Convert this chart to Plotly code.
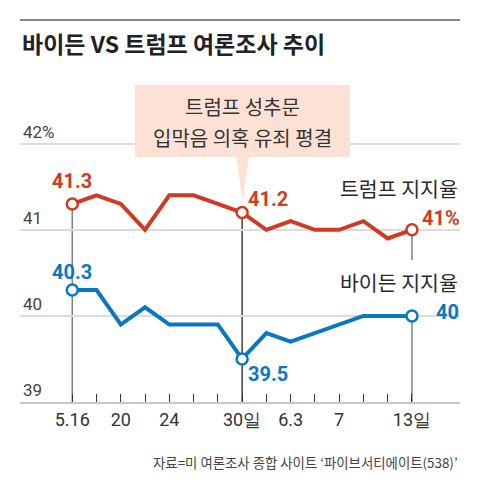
import plotly.graph_objects as go

# ---- data ----
dates = ["5.16", "5.18", "5.20", "5.22", "5.24", "5.26", "5.28", "5.30",
         "6.1", "6.3", "6.5", "6.7", "6.9", "6.11", "6.13"]
tick_text = ["5.16", "", "20", "", "24", "", "", "30일", "", "6.3", "", "7", "", "", "13일"]
trump = [41.3, 41.4, 41.3, 41.0, 41.4, 41.4, 41.3, 41.2, 41.0, 41.1, 41.0, 41.0, 41.1, 40.9, 41.0]
biden = [40.3, 40.3, 39.9, 40.1, 39.9, 39.9, 39.9, 39.5, 39.8, 39.7, 39.8, 39.9, 40.0, 40.0, 40.0]
y_ticks = [39, 40, 41, 42]
y_tick_text = ["39", "40", "41", "42%"]
highlight = [0, 7, 14]
trump_labels = ["41.3", "41.2", "41%"]
biden_labels = ["40.3", "39.5", "40"]
title = "바이든 VS 트럼프 여론조사 추이"
note = ["트럼프 성추문", "입막음 의혹 유죄 평결"]
trump_name = "트럼프 지지율"
biden_name = "바이든 지지율"
source = "자료=미 여론조사 종합 사이트 ‘파이브서티에이트(538)’"

# ---- style ----
# page body has an 8px margin, so the figure is sized to fill the rest of the window
W, H = 464, 474
L, R, T, B = 12, 12, 52, 80
RED = "#cf3a22"
BLUE = "#0a78c0"
PINK = "#fde1d4"
KR = "Noto Sans CJK KR, sans-serif"
NUM = "Roboto, sans-serif"

x = list(range(len(dates)))
hx = [x[i] for i in highlight]


def px(v):  # window pixel -> paper x
    return (v - 20) / 440


def py(v):  # window pixel -> paper y
    return (402 - v) / 342


fig = go.Figure()
fig.add_trace(go.Scatter(x=x, y=trump, mode="lines",
                         line=dict(color=RED, width=4), hoverinfo="skip"))
fig.add_trace(go.Scatter(x=x, y=biden, mode="lines",
                         line=dict(color=BLUE, width=4), hoverinfo="skip"))
fig.add_trace(go.Scatter(x=hx, y=[trump[i] for i in highlight], mode="markers",
                         marker=dict(symbol="circle", size=11, color="white",
                                     line=dict(color=RED, width=2.5)), hoverinfo="skip"))
fig.add_trace(go.Scatter(x=hx, y=[biden[i] for i in highlight], mode="markers",
                         marker=dict(symbol="circle", size=11, color="white",
                                     line=dict(color=BLUE, width=2.5)), hoverinfo="skip"))

shapes = []
# vertical reference lines
shapes.append(dict(type="line", xref="x", yref="y", x0=hx[0], x1=hx[0], y0=39, y1=trump[0],
                   line=dict(color="#808080", width=1.5), layer="below"))
shapes.append(dict(type="line", xref="x", yref="y", x0=hx[1], x1=hx[1], y0=39, y1=trump[7],
                   line=dict(color="#111111", width=1.2), layer="below"))
shapes.append(dict(type="line", xref="x", yref="y", x0=hx[2], x1=hx[2], y0=39, y1=biden[14],
                   line=dict(color="#808080", width=1.5), layer="below"))
shapes.append(dict(type="line", xref="x", yref="y", x0=hx[2], x1=hx[2], y0=40.65, y1=trump[14],
                   line=dict(color="#808080", width=1.5), layer="below"))
# top rule
shapes.append(dict(type="line", xref="paper", yref="paper", x0=0, x1=1, y0=py(20), y1=py(20),
                   line=dict(color="#8c8782", width=2)))
# callout box + pointer
shapes.append(dict(type="rect", xref="paper", yref="paper", x0=px(135), x1=px(350),
                   y0=py(157), y1=py(85), fillcolor=PINK, line=dict(width=0), layer="above"))
shapes.append(dict(type="path", xref="paper", yref="paper",
                   path=f"M {px(236)},{py(156)} L {px(249)},{py(156)} L {px(242.7)},{py(200)} Z",
                   fillcolor=PINK, line=dict(width=0), layer="above"))

ann = []
ann.append(dict(xref="paper", yref="paper", x=0, y=py(43), xanchor="left", yanchor="middle",
                text=f"<b>{title}</b>", showarrow=False,
                font=dict(family=KR, size=23, color="#222222")))
for line_text, ly in zip(note, [106, 137]):
    ann.append(dict(xref="paper", yref="paper", x=px(242.5), y=py(ly), xanchor="center",
                    yanchor="middle", text=line_text, showarrow=False,
                    font=dict(family=KR, size=20, color="#333333")))
ann.append(dict(xref="paper", yref="paper", x=1, y=py(188), xanchor="right", yanchor="middle",
                text=trump_name, showarrow=False, font=dict(family=KR, size=20.5, color="#2a2a2a")))
ann.append(dict(xref="paper", yref="paper", x=1, y=py(282), xanchor="right", yanchor="middle",
                text=biden_name, showarrow=False, font=dict(family=KR, size=20.5, color="#2a2a2a")))
ann.append(dict(xref="paper", yref="paper", x=1, y=py(462), xanchor="right", yanchor="middle",
                text=source, showarrow=False, font=dict(family=KR, size=13.4, color="#444444")))

t_off = [(0, 23), (26, 14), (29, 12)]
b_off = [(0, 18), (26, -15), (36, 4)]
for k, i in enumerate(highlight):
    ann.append(dict(x=x[i], y=trump[i], xref="x", yref="y", text=f"<b>{trump_labels[k]}</b>",
                    showarrow=False, xshift=t_off[k][0], yshift=t_off[k][1],
                    font=dict(family=NUM, size=20, color=RED)))
    ann.append(dict(x=x[i], y=biden[i], xref="x", yref="y", text=f"<b>{biden_labels[k]}</b>",
                    showarrow=False, xshift=b_off[k][0], yshift=b_off[k][1],
                    font=dict(family=NUM, size=20, color=BLUE)))

fig.update_layout(
    width=W, height=H, margin=dict(l=L, r=R, t=T, b=B),
    paper_bgcolor="white", plot_bgcolor="white", showlegend=False,
    shapes=shapes, annotations=ann,
    xaxis=dict(range=[-2.154, 15.98], tickvals=x, ticktext=tick_text, ticks="inside",
               ticklen=8, tickwidth=1, tickcolor="#333333", showgrid=False, zeroline=False,
               showline=True, linecolor="#c8c8c8", linewidth=2,
               tickfont=dict(family=NUM, size=18, color="#333333")),
    yaxis=dict(range=[39, 39 + 342 / 86.1], tickvals=y_ticks, ticktext=y_tick_text,
               ticklabelposition="inside top", ticks="", showgrid=True, gridcolor="#dcdcdc",
               gridwidth=1.5, zeroline=False, showline=False,
               tickfont=dict(family=NUM, size=17, color="#444444")),
)

fig.write_html("out.html")
